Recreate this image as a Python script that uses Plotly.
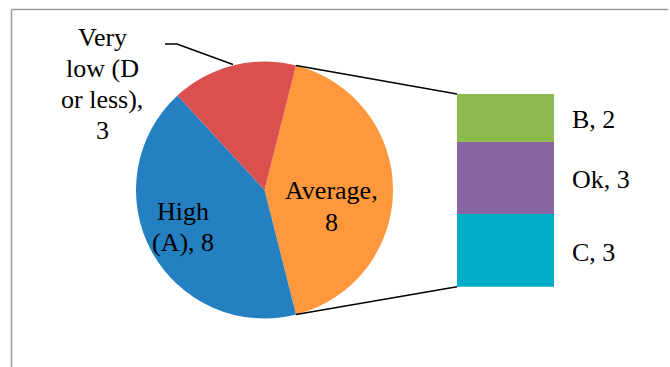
import math
import plotly.graph_objects as go

# ---- data ----
pie_labels = ["Average", "High (A)", "Very low (D or less)"]
pie_values = [8, 8, 3]
pie_colors = ["#FF983C", "#2480C0", "#DA504E"]

bar_labels = ["B", "Ok", "C"]          # top to bottom
bar_values = [2, 3, 3]
bar_colors = ["#8EBB50", "#8964A3", "#00ADC6"]

W, H = 670, 367
FONT = "Liberation Serif"
FS = 26

# pie geometry (pixels)
cx, cy, R = 264.5, 190.0, 128.5
pie_dom_x = [(cx - R) / W, (cx + R) / W]
pie_dom_y = [1 - (cy + R) / H, 1 - (cy - R) / H]

total = sum(pie_values)
rotation = 90 - pie_values[0] / total * 180  # center split slice at 3 o'clock

# bar geometry (pixels)
bx0, bx1 = 457, 554
by_top, by_bot = 94, 286.7
bar_dom_x = [bx0 / W, bx1 / W]
bar_dom_y = [1 - by_bot / H, 1 - by_top / H]

fig = go.Figure()
fig.add_trace(go.Pie(
    labels=pie_labels, values=pie_values, sort=False, direction="clockwise",
    rotation=rotation, textinfo="none", hoverinfo="label+value",
    marker=dict(colors=pie_colors, line=dict(width=0)),
    domain=dict(x=pie_dom_x, y=pie_dom_y), showlegend=False,
))

# stacked bar, bottom first
for lab, val, col in reversed(list(zip(bar_labels, bar_values, bar_colors))):
    fig.add_trace(go.Bar(x=[0], y=[val], width=1, marker=dict(color=col, line=dict(width=0)),
                         name=lab, showlegend=False, xaxis="x", yaxis="y"))

fig.update_layout(
    width=W, height=H, margin=dict(l=0, r=0, t=0, b=0),
    paper_bgcolor="white", plot_bgcolor="rgba(0,0,0,0)",
    barmode="stack", bargap=0,
    xaxis=dict(domain=bar_dom_x, range=[-0.5, 0.5], visible=False, fixedrange=True),
    yaxis=dict(domain=bar_dom_y, range=[0, sum(bar_values)], visible=False, fixedrange=True),
)

def px(x, y):
    return x / W, 1 - y / H

shapes = []
# frame
shapes.append(dict(type="line", xref="paper", yref="paper", x0=11.5 / W, x1=11.5 / W,
                   y0=0, y1=1 - 9.5 / H, line=dict(color="#9A9A9A", width=1.5)))
shapes.append(dict(type="line", xref="paper", yref="paper", x0=11.5 / W, x1=668 / W,
                   y0=1 - 9.5 / H, y1=1 - 9.5 / H, line=dict(color="#9A9A9A", width=1.5)))

# connector lines from split slice edges to bar corners
a0 = math.radians(rotation)
a1 = math.radians(rotation + pie_values[0] / total * 360)
p0 = (cx + R * math.sin(a0), cy - R * math.cos(a0))
p1 = (cx + R * math.sin(a1), cy - R * math.cos(a1))
for (x0, y0), (x1, y1) in [(p0, (bx0, by_top)), (p1, (bx0, by_bot))]:
    ax, ay = px(x0, y0)
    bx, by = px(x1, y1)
    shapes.append(dict(type="line", xref="paper", yref="paper", x0=ax, y0=ay, x1=bx, y1=by,
                       line=dict(color="black", width=1.5)))

# leader line for outside label
pts = [(165, 44), (177, 44), (233, 64.5)]
path = "M " + " L ".join(f"{px(x, y)[0]},{px(x, y)[1]}" for x, y in pts)
shapes.append(dict(type="path", xref="paper", yref="paper", path=path,
                   line=dict(color="black", width=1.5)))
fig.update_layout(shapes=shapes)

# labels (one annotation per text line to control line spacing)
def ann(text, x, y, xanchor="center"):
    X, Y = px(x, y)
    return dict(text=text, x=X, y=Y, xref="paper", yref="paper", showarrow=False,
                xanchor=xanchor, yanchor="middle", align="center",
                font=dict(family=FONT, size=FS, color="black"))

annotations = []
def multiline(lines, x, ys):
    for t, yy in zip(lines, ys):
        annotations.append(ann(t, x, yy))

multiline(["Very", "low (D", "or less),", f"{pie_values[2]}"], 102, [37.5, 68.5, 99.5, 130])
multiline(["High", f"(A), {pie_values[1]}"], 183, [211.5, 242])
multiline([f"{pie_labels[0]},", f"{pie_values[0]}"], 331, [190, 222])

bar_label_y = [119.5, 179, 252]
for lab, val, yy in zip(bar_labels, bar_values, bar_label_y):
    annotations.append(ann(f"{lab}, {val}", 570, yy, xanchor="left"))
fig.update_layout(annotations=annotations)

fig.write_html("out.html")
